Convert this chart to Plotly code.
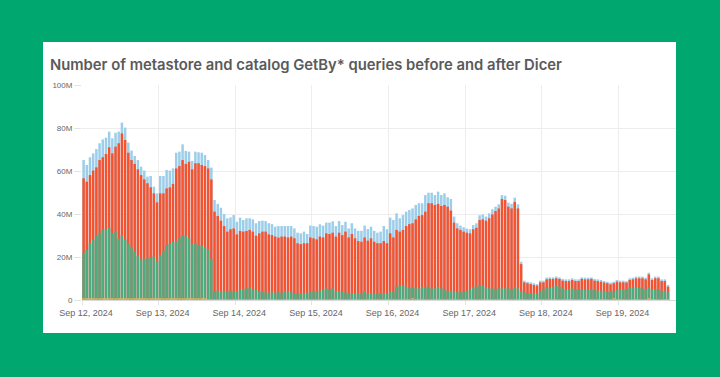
import pandas as pd
import plotly.graph_objects as go

# Hourly buckets starting Sep 12, 2024 00:00 (values in millions, bar-top levels)
start_time = "2024-09-12 00:00"

total_level = [
    65.1, 62.8, 66.4, 68.2, 70.2, 72.9, 74.7, 75.5, 78.3, 75.2, 77.8, 78.3,
    82.5, 80.2, 73.2, 69.5, 67.0, 65.1, 62.0, 60.2, 57.4, 57.7, 52.7, 49.6,
    57.7, 57.7, 60.5, 60.2, 61.2, 68.5, 69.0, 72.4, 69.3, 69.0, 64.7, 69.0,
    68.7, 68.5, 67.4, 65.1, 61.6, 46.5, 44.7, 42.9, 40.0, 38.0, 38.4, 39.5,
    36.4, 38.3, 37.2, 38.0, 38.0, 37.5, 35.7, 36.7, 36.9, 36.7, 35.7, 35.3,
    34.1, 34.4, 34.4, 34.4, 34.4, 34.4, 33.3, 31.3, 31.0, 31.8, 30.7, 34.6,
    34.4, 34.1, 35.2, 34.6, 36.0, 36.0, 36.6, 34.4, 36.7, 34.9, 36.4, 33.3,
    35.7, 33.3, 32.2, 32.2, 34.6, 33.0, 34.1, 32.2, 31.3, 31.8, 34.4, 32.9,
    38.3, 37.2, 40.3, 38.0, 39.5, 41.1, 41.9, 42.6, 44.2, 45.0, 45.0, 48.8,
    49.9, 49.9, 48.8, 50.4, 48.8, 49.6, 47.8, 47.0, 38.8, 35.7, 34.6, 33.8,
    33.2, 32.9, 34.9, 35.7, 39.4, 39.8, 38.8, 40.3, 42.2, 43.4, 44.5, 48.8,
    48.5, 45.3, 44.7, 47.6, 44.5, 17.8, 9.0, 8.5, 8.2, 7.8, 7.4, 9.0,
    9.0, 10.4, 10.5, 10.5, 10.9, 10.5, 9.8, 9.6, 9.6, 10.1, 9.6, 9.6,
    10.5, 10.4, 10.4, 10.5, 9.8, 9.6, 9.3, 8.8, 8.5, 8.1, 8.5, 9.3,
    9.0, 9.0, 8.8, 10.1, 10.4, 10.9, 10.9, 10.9, 10.4, 12.7, 10.1, 10.9,
    10.9, 9.6, 9.6, 7.0,
]

red_level = [
    56.6, 55.0, 58.1, 60.2, 61.7, 65.1, 66.4, 67.9, 71.0, 68.2, 71.3, 72.9,
    77.5, 74.4, 68.5, 65.1, 63.3, 60.8, 58.1, 56.1, 54.3, 52.4, 49.6, 45.4,
    49.6, 49.6, 51.9, 52.4, 54.0, 61.2, 62.3, 65.1, 63.3, 64.3, 60.8, 63.6,
    63.6, 62.8, 62.3, 61.2, 56.1, 41.1, 39.1, 36.9, 34.4, 31.8, 32.9, 33.3,
    30.5, 32.1, 31.8, 32.1, 32.6, 31.8, 29.9, 31.0, 31.8, 31.8, 30.5, 30.2,
    29.5, 29.0, 29.5, 29.5, 29.1, 29.5, 28.7, 26.4, 26.0, 26.4, 26.4, 29.1,
    28.7, 28.2, 29.5, 29.1, 31.0, 30.7, 31.3, 29.5, 31.3, 30.2, 31.8, 29.1,
    30.7, 28.7, 27.4, 27.1, 29.1, 27.6, 28.7, 27.1, 26.4, 26.4, 27.4, 26.4,
    31.0, 29.1, 32.6, 31.8, 32.6, 34.4, 35.3, 35.7, 37.5, 39.1, 39.5, 41.1,
    45.0, 45.0, 44.2, 44.7, 43.7, 44.2, 43.4, 41.6, 36.0, 33.3, 32.6, 31.8,
    31.3, 31.0, 32.9, 33.6, 37.2, 37.5, 36.9, 38.0, 39.8, 41.4, 42.6, 47.0,
    46.5, 43.4, 42.6, 45.6, 42.6, 16.7, 8.2, 7.8, 7.4, 7.0, 6.7, 8.2,
    8.2, 9.6, 9.8, 9.8, 10.1, 9.8, 9.0, 8.8, 8.8, 9.3, 8.8, 8.8,
    9.8, 9.6, 9.6, 9.8, 9.0, 8.8, 8.5, 8.1, 7.8, 7.3, 7.8, 8.5,
    8.2, 8.2, 8.1, 9.3, 9.6, 10.1, 10.1, 10.1, 9.6, 11.9, 9.3, 10.1,
    10.1, 8.8, 8.8, 6.2,
]

green_level = [
    22.0, 23.3, 26.4, 28.2, 29.8, 31.3, 32.6, 33.0, 33.6, 31.0, 31.8, 28.5,
    30.2, 28.2, 26.0, 24.8, 22.5, 20.5, 19.1, 19.2, 19.4, 19.7, 20.2, 18.1,
    20.9, 22.9, 25.6, 26.0, 27.0, 27.4, 28.7, 29.9, 29.8, 28.7, 25.9, 26.4,
    25.3, 25.3, 24.5, 23.7, 19.1, 3.9, 4.3, 3.9, 4.3, 3.9, 4.3, 4.2,
    4.2, 4.7, 5.0, 5.4, 5.7, 5.0, 4.7, 3.9, 3.7, 3.6, 3.4, 3.6,
    3.4, 3.6, 3.4, 4.2, 3.9, 3.6, 3.1, 2.9, 3.1, 3.1, 3.4, 3.9,
    3.9, 4.2, 4.3, 4.7, 5.4, 5.0, 5.4, 4.2, 4.2, 3.9, 3.6, 3.1,
    3.1, 3.1, 3.1, 3.1, 4.2, 3.1, 3.1, 2.8, 2.8, 3.1, 3.1, 3.1,
    3.9, 3.9, 6.2, 6.5, 6.5, 6.2, 5.9, 5.9, 5.4, 5.4, 6.2, 5.9,
    6.2, 5.4, 5.4, 6.2, 5.4, 5.0, 4.3, 4.3, 3.9, 3.6, 3.6, 3.9,
    4.3, 4.7, 5.9, 6.2, 6.5, 6.5, 5.9, 5.4, 5.4, 5.1, 5.4, 5.4,
    5.4, 5.4, 5.0, 5.9, 5.4, 4.2, 3.6, 3.1, 3.1, 3.1, 3.1, 4.3,
    5.0, 5.9, 5.9, 6.2, 6.5, 6.2, 5.4, 5.0, 5.0, 5.4, 5.1, 5.0,
    5.0, 5.0, 5.0, 5.0, 4.7, 4.3, 4.3, 4.3, 3.9, 3.9, 3.9, 4.7,
    5.0, 5.0, 5.0, 5.9, 5.9, 5.9, 5.7, 5.4, 5.0, 5.9, 5.0, 5.0,
    5.0, 4.3, 4.3, 3.6,
]

yellow_level = [
    0.5, 0.5, 0.5, 0.5, 0.5, 0.5, 0.5, 0.5, 0.5, 0.5, 0.5, 0.5,
    0.5, 0.5, 0.5, 0.5, 0.5, 0.5, 0.5, 0.5, 0.5, 0.5, 0.5, 0.5,
    0.5, 0.5, 0.5, 0.5, 0.5, 0.5, 0.5, 0.5, 0.5, 0.5, 0.5, 0.5,
    0.6, 0.6, 0.5, 0.4, 0.4, 0.3, 0.3, 0.3, 0.3, 0.3, 0.3, 0.3,
    0.3, 0.3, 0.3, 0.3, 0.3, 0.3, 0.3, 0.3, 0.3, 0.3, 0.3, 0.3,
    0.3, 0.3, 0.3, 0.3, 0.3, 0.3, 0.3, 0.3, 0.3, 0.3, 0.3, 0.3,
    0.3, 0.3, 0.4, 0.3, 0.3, 0.3, 0.3, 0.3, 0.3, 0.3, 0.3, 0.3,
    0.3, 0.3, 0.3, 0.3, 0.3, 0.3, 0.3, 0.3, 0.3, 0.3, 0.3, 0.3,
    0.3, 0.3, 0.4, 0.4, 0.4, 0.4, 0.4, 0.6, 0.4, 0.3, 0.3, 0.3,
    0.3, 0.3, 0.3, 0.3, 0.3, 0.3, 0.3, 0.3, 0.3, 0.3, 0.3, 0.3,
    0.3, 0.3, 0.3, 0.3, 0.3, 0.3, 0.3, 0.3, 0.3, 0.3, 0.3, 0.3,
    0.3, 0.3, 0.3, 0.3, 0.3, 0.3, 0.3, 0.3, 0.3, 0.3, 0.3, 0.3,
    0.3, 0.4, 0.4, 0.4, 0.4, 0.4, 0.4, 0.4, 0.4, 0.4, 0.4, 0.4,
    0.4, 0.4, 0.4, 0.4, 0.4, 0.4, 0.4, 0.4, 0.4, 0.4, 0.6, 0.4,
    0.4, 0.4, 0.4, 0.4, 0.4, 0.4, 0.4, 0.4, 0.4, 0.6, 0.4, 0.4,
    0.4, 0.4, 0.4, 0.4,
]

y_tick_values = [0, 20, 40, 60, 80, 100]
y_tick_labels = ["0", "20M", "40M", "60M", "80M", "100M"]

title_text = "Number of metastore and catalog GetBy* queries before and after Dicer"

hours = pd.date_range(start_time, periods=len(total_level), freq="h")

BG = "#00A870"
series = [
    ("total", total_level, "#9CCDE9"),
    ("red", red_level, "#F5522F"),
    ("green", green_level, "#4FAA7E"),
    ("yellow", yellow_level, "#C8B457"),
]

fig = go.Figure()
for name, vals, col in series:
    fig.add_trace(go.Bar(
        x=hours, y=vals, name=name,
        xperiod=3600000, xperiodalignment="middle",
        marker=dict(color=col, line=dict(width=0)),
        showlegend=False,
    ))

# plot-area geometry (px) for card shape in paper coords
L, R, T, B = 82, 44, 85, 77
W, H = 720, 377
pw, ph = W - L - R, H - T - B

fig.add_shape(
    type="rect", xref="paper", yref="paper", layer="below",
    x0=(43 - L) / pw, x1=(676 - L) / pw,
    y0=(H - B - 333) / ph, y1=(H - B - 42) / ph,
    fillcolor="white", line=dict(width=0),
)

fig.update_layout(
    width=W, height=H,
    margin=dict(l=L, r=R, t=T, b=B, pad=0),
    paper_bgcolor=BG, plot_bgcolor="rgba(0,0,0,0)",
    barmode="overlay", bargap=0.22,
    title=dict(
        text=title_text, xref="container", yref="container",
        x=50 / W, xanchor="left", y=1 - 65 / H, yanchor="middle",
        font=dict(family="Inter, Open Sans, sans-serif", size=14.8, color="#5A5A5A", weight=600),
    ),
    font=dict(family="Liberation Sans, Arial, sans-serif", color="#666666"),
)

fig.update_xaxes(
    type="date",
    range=["2024-09-12 00:00", "2024-09-19 18:00"],
    tick0="2024-09-12", dtick=86400000,
    tickformat="%b %-d, %Y",
    showgrid=True, gridcolor="#EDEDED", gridwidth=1,
    ticks="outside", ticklen=4, tickcolor="#E3E3E3",
    showline=True, linecolor="#D9D9D9", linewidth=1,
    tickfont=dict(size=9, color="#666666"),
    ticklabelshift=4,
    zeroline=False,
)
fig.update_yaxes(
    range=[0, 100],
    tickvals=y_tick_values, ticktext=y_tick_labels,
    showgrid=True, gridcolor="#EDEDED", gridwidth=1,
    ticks="outside", ticklen=7, tickcolor="#E3E3E3",
    tickfont=dict(size=8, color="#666666"),
    zeroline=False, showline=False,
)

fig.write_html(
    "out.html",
    config={"displayModeBar": False},
    post_script="document.body.style.margin='0';document.body.style.overflow='hidden';",
)
